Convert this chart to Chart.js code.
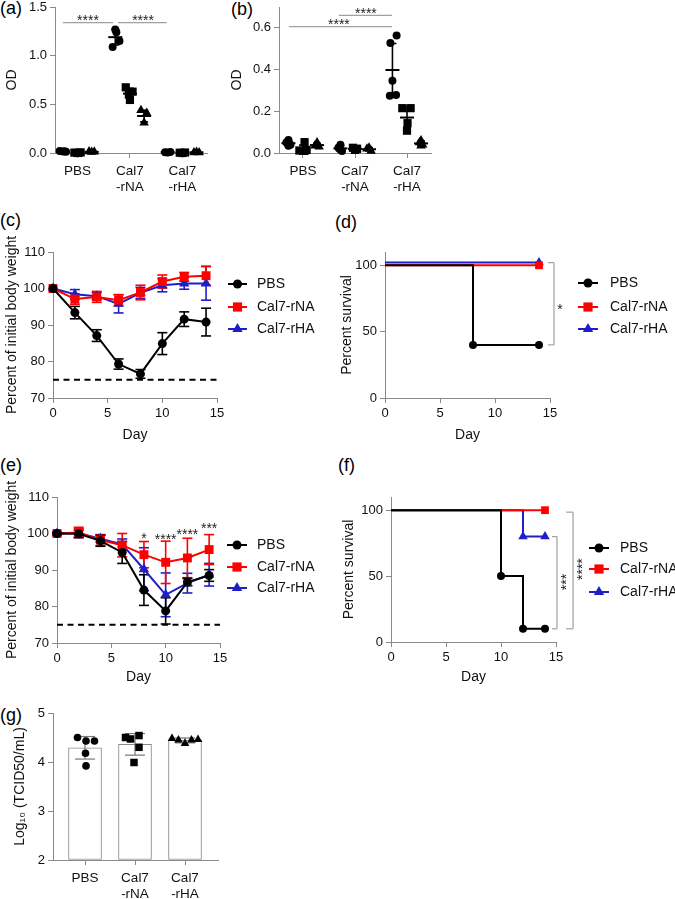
<!DOCTYPE html>
<html><head><meta charset="utf-8">
<script src="https://cdn.jsdelivr.net/npm/chart.js@4.4.1/dist/chart.umd.min.js"></script>
<style>
html,body{margin:0;padding:0;background:#fff;width:675px;height:899px;overflow:hidden;position:relative;font-family:"Liberation Sans",Arial,Helvetica,sans-serif;}
.panel{position:absolute;}
.panel canvas{display:block;}
.lbl{position:absolute;font-size:18px;line-height:18px;color:#000;white-space:nowrap;}
</style></head><body>
<div class="lbl" style="left:0px;top:-1px">(a)</div>
<div class="lbl" style="left:231px;top:0px">(b)</div>
<div class="lbl" style="left:0px;top:211px">(c)</div>
<div class="lbl" style="left:335px;top:213px">(d)</div>
<div class="lbl" style="left:0px;top:456px">(e)</div>
<div class="lbl" style="left:338px;top:456px">(f)</div>
<div class="lbl" style="left:0px;top:706px">(g)</div>
<script>
// ================= DATA =================
const catLabels = [['PBS'], ['Cal7', '-rNA'], ['Cal7', '-rHA']];
const seriesNames = ['PBS', 'Cal7-rNA', 'Cal7-rHA'];

// (a) OD — per group: [PBS, Cal7-rNA, Cal7-rHA]; three sub-series (circle, square, triangle)
const aCircle   = [[0.020, 0.015, 0.012, 0.018], [1.27, 1.24, 1.15, 1.09], [0.008, 0.005, 0.010]];
const aSquare   = [[0.004, 0.000, 0.006, 0.002], [0.675, 0.630, 0.600, 0.545], [0.003, 0.000, 0.005]];
const aTriangle = [[0.015, 0.010, 0.012], [0.44, 0.41, 0.31], [0.006, 0.010, 0.004]];
const aMeans = [[0.016, 1.19, 0.008], [0.003, 0.61, 0.003], [0.012, 0.38, 0.007]];
const aSDs   = [[0.004, 0.08, 0.002], [0.003, 0.055, 0.002], [0.003, 0.06, 0.003]];
const aJitCircle   = [[-0.06, 0.0, 0.06, 0.03], [0.0, 0.02, 0.08, -0.05], [-0.05, 0.0, 0.05]];
const aJitSquare   = [[-0.06, 0.0, 0.06, 0.02], [-0.08, 0.05, -0.02, 0.0], [-0.05, 0.0, 0.05]];
const aJitTriangle = [[-0.05, 0.0, 0.05], [-0.06, 0.05, 0.0], [-0.05, 0.0, 0.05]];

// (b) OD
const bCircle   = [[0.062, 0.050, 0.040, 0.035], [0.040, 0.025, 0.010, 0.015], [0.563, 0.527, 0.347, 0.274, 0.278]];
const bSquare   = [[0.052, 0.012, 0.010, 0.015, 0.010], [0.025, 0.020, 0.015, 0.020], [0.215, 0.215, 0.143, 0.107]];
const bTriangle = [[0.050, 0.035, 0.030, 0.040], [0.025, 0.020, 0.010], [0.060, 0.050, 0.040, 0.035]];
const bMeans = [[0.047, 0.022, 0.398], [0.020, 0.020, 0.170], [0.038, 0.018, 0.046]];
const bSDs   = [[0.012, 0.013, 0.127], [0.018, 0.004, 0.053], [0.009, 0.008, 0.011]];
const bJitCircle   = [[0.0, -0.04, 0.04, 0.0], [0.0, -0.04, 0.03, 0.0], [0.08, -0.04, 0.0, -0.05, 0.07]];
const bJitSquare   = [[0.03, -0.07, 0.0, 0.07, 0.03], [-0.04, 0.03, 0.0, 0.04], [-0.09, 0.07, 0.01, 0.0]];
const bJitTriangle = [[0.0, -0.04, 0.04, 0.0], [0.0, -0.04, 0.04], [0.0, -0.03, 0.03, 0.0]];

// (c) body weight
const days = [0, 2, 4, 6, 8, 10, 12, 14];
const cPBS    = [100, 93.4, 87.1, 79.3, 76.6, 84.9, 91.6, 90.8];
const cPBSErr = [0, 1.7, 1.6, 1.4, 1.2, 3.0, 2.0, 3.8];
const cRNA    = [100, 97.1, 97.7, 96.8, 98.9, 101.9, 103.2, 103.5];
const cRNAErr = [0, 1.4, 1.5, 1.5, 2.0, 1.8, 1.2, 2.6];
const cRHA    = [100, 98.4, 97.9, 95.8, 98.8, 100.9, 101.4, 101.4];
const cRHAErr = [0, 1.3, 1.0, 2.5, 1.5, 1.8, 1.6, 4.6];
const weightLimit = 75;

// (d) survival
const dPBSDays = [0, 8, 14],  dPBS = [100, 40, 40];
const dRNADays = [0, 14],     dRNA = [100, 100];
const dRHADays = [0, 14],     dRHA = [102, 102];

// (e) body weight
const ePBS    = [100, 99.9, 98.0, 94.8, 84.5, 78.8, 86.7, 88.5];
const ePBSErr = [0.3, 1.0, 1.5, 3.0, 4.2, 3.6, 1.0, 1.6];
const eRNA    = [100, 100.3, 98.2, 96.8, 94.2, 92.1, 93.3, 95.6];
const eRNAErr = [0.4, 1.4, 1.5, 3.2, 3.6, 5.8, 5.4, 4.1];
const eRHA    = [100, 100.1, 98.6, 97.0, 90.2, 83.2, 86.4, 88.7];
const eRHAErr = [0.3, 1.2, 1.0, 1.5, 5.9, 6.0, 2.7, 3.1];
const eStarDays = [8, 10, 12, 14];
const eStarLevels = [99.5, 99.2, 100.8, 102.2];
const eStarText = ['*', '****', '****', '***'];

// (f) survival
const fPBSDays = [0, 10, 12, 14], fPBS = [100, 50, 10, 10];
const fRNADays = [0, 14],         fRNA = [100, 100];
const fRHADays = [0, 12, 14],     fRHA = [100, 80, 80];

// (g) lung titers
const gPBS = [4.50, 4.43, 4.43, 4.18, 3.92];
const gRNA = [4.50, 4.47, 4.54, 4.30, 3.99];
const gRHA = [4.48, 4.45, 4.38, 4.45, 4.46];
const gMeans = [4.29, 4.36, 4.44];
const gSDs = [0.23, 0.22, 0.05];
const gJitPBS = [-0.15, 0.02, 0.19, 0.01, 0.02];
const gJitRNA = [-0.19, -0.09, 0.08, 0.08, -0.02];
const gJitRHA = [-0.26, -0.13, 0.0, 0.13, 0.26];

// ================= STYLE / LAYOUT =================
const FONT = '"Liberation Sans", Arial, Helvetica, sans-serif';
Chart.defaults.font.family = FONT;
Chart.defaults.color = '#111';
const GRAY = '#8a8a8a';
const COLORS = ['#000000', '#FF0000', '#1F1FC8'];
const SHAPES = ['circle', 'rect', 'triangle'];
const SUB_OFF = [-0.28, 0, 0.27];

function panel(g) {
  const d = document.createElement('div');
  d.className = 'panel';
  Object.assign(d.style, {left: g.L + 'px', top: g.T + 'px', width: g.W + 'px', height: g.H + 'px'});
  const c = document.createElement('canvas');
  c.width = g.W; c.height = g.H;
  c.style.width = g.W + 'px'; c.style.height = g.H + 'px';
  d.appendChild(c); document.body.appendChild(d);
  return c;
}

function scale(o) {
  return {
    type: 'linear', min: o.min, max: o.max, offset: false,
    afterBuildTicks: s => { s.ticks = o.ticks.map(v => ({value: v})); },
    ticks: {autoSkip: false, maxRotation: 0, minRotation: 0, padding: o.pad ?? 3, color: '#111',
            font: {size: o.fs || 13, lineHeight: o.lh || 1.2}, callback: o.fmt || (v => String(v))},
    grid: {drawOnChartArea: false, drawTicks: true, tickLength: 5, color: GRAY, lineWidth: 1, offset: false},
    border: {display: true, color: GRAY, width: 1},
    title: o.title ? {display: true, text: o.title, color: '#111', font: {size: 14}, padding: {top: 4, bottom: 4}} : {display: false}
  };
}

function baseOpts(g, x, y) {
  x.afterFit = s => { s.height = g.T + g.H - g.y1; };
  y.afterFit = s => { s.width = g.x0 - g.L; };
  return {
    responsive: false, animation: false, events: [],
    layout: {padding: {left: 0, top: g.y0 - g.T, right: g.L + g.W - g.x1, bottom: 0}},
    plugins: {legend: {display: false}, tooltip: {enabled: false}},
    scales: {x, y}
  };
}

function marker(ctx, shape, x, y, r) {
  ctx.beginPath();
  if (shape === 'circle') ctx.arc(x, y, r, 0, Math.PI * 2);
  else if (shape === 'rect') { const s = r * Math.SQRT1_2; ctx.rect(x - s, y - s, 2 * s, 2 * s); }
  else {
    ctx.moveTo(x, y - r);
    ctx.lineTo(x + r * Math.sin(2 * Math.PI / 3), y - r * Math.cos(2 * Math.PI / 3));
    ctx.lineTo(x + r * Math.sin(4 * Math.PI / 3), y - r * Math.cos(4 * Math.PI / 3));
    ctx.closePath();
  }
  ctx.fill();
}

function drawLegend(chart, g, lg) {
  const ctx = chart.ctx;
  lg.ys.forEach((yy, k) => {
    const y = yy - g.T;
    ctx.save();
    ctx.strokeStyle = COLORS[k]; ctx.lineWidth = 2;
    ctx.beginPath(); ctx.moveTo(lg.x1 - g.L, y); ctx.lineTo(lg.x2 - g.L, y); ctx.stroke();
    ctx.fillStyle = COLORS[k];
    marker(ctx, SHAPES[k], (lg.x1 + lg.x2) / 2 - g.L, y, lg.r[k]);
    ctx.fillStyle = '#111'; ctx.font = '14px ' + FONT;
    ctx.textBaseline = 'middle'; ctx.textAlign = 'left';
    ctx.fillText(seriesNames[k], lg.tx - g.L, y);
    ctx.restore();
  });
}

function stars(ctx, text, x, y, size, rot) {
  ctx.save();
  ctx.fillStyle = '#222'; ctx.font = size + 'px ' + FONT;
  ctx.textAlign = 'center'; ctx.textBaseline = 'alphabetic';
  ctx.translate(x, y);
  if (rot) ctx.rotate(-Math.PI / 2);
  ctx.fillText(text, 0, 0.57 * size);
  ctx.restore();
}

function line(ctx, x1, y1, x2, y2, color, w) {
  ctx.save(); ctx.strokeStyle = color; ctx.lineWidth = w;
  ctx.beginPath(); ctx.moveTo(x1, y1); ctx.lineTo(x2, y2); ctx.stroke(); ctx.restore();
}

// ---------- (a)/(b) dot plots ----------
const DOT_R = [4, 5.8, 5.5];
function dotChart(g, groups, jits, means, sds, yo, sig) {
  const canvas = panel(g);
  const datasets = groups.map((grp, s) => ({
    type: 'scatter',
    data: grp.flatMap((vals, c) => vals.map((v, i) => ({x: c + SUB_OFF[s] + jits[s][c][i], y: v}))),
    pointStyle: SHAPES[s], pointRadius: DOT_R[s], pointHoverRadius: DOT_R[s],
    backgroundColor: '#000', borderColor: '#000', pointBorderWidth: 0, showLine: false, clip: false
  }));
  const x = scale({min: -0.43, max: 2.47, ticks: [0, 1, 2], fmt: v => catLabels[Math.round(v)], fs: 13.5, lh: 1.15, pad: 6});
  const y = scale({min: 0, max: yo.max, ticks: yo.ticks, fmt: v => v.toFixed(1), title: 'OD'});
  if (yo.xmin !== undefined) { x.min = yo.xmin; x.max = yo.xmax; }
  const plugin = {
    id: 'meanSd',
    afterDatasetsDraw(chart) {
      const ctx = chart.ctx, xs = chart.scales.x, ys = chart.scales.y;
      for (let s = 0; s < 3; s++) for (let c = 0; c < 3; c++) {
        const px = xs.getPixelForValue(c + SUB_OFF[s]);
        const m = ys.getPixelForValue(means[s][c]);
        const t = ys.getPixelForValue(means[s][c] + sds[s][c]);
        const b = ys.getPixelForValue(Math.max(0, means[s][c] - sds[s][c]));
        line(ctx, px - 7, m, px + 7, m, '#000', 2);
        line(ctx, px, t, px, b, '#000', 1.6);
        line(ctx, px - 4, t, px + 4, t, '#000', 1.6);
        line(ctx, px - 4, b, px + 4, b, '#000', 1.6);
      }
      sig.forEach(sg => {
        const yy = ys.getPixelForValue(sg.y);
        line(ctx, xs.getPixelForValue(sg.x1), yy, xs.getPixelForValue(sg.x2), yy, '#a0a0a0', 1.3);
        stars(ctx, '****', xs.getPixelForValue(sg.sx), ys.getPixelForValue(sg.sy), 14, false);
      });
    }
  };
  return new Chart(canvas, {type: 'scatter', data: {datasets}, options: baseOpts(g, x, y), plugins: [plugin]});
}

dotChart({L: 0, T: -5, W: 235, H: 200, x0: 55, x1: 207, y0: 7, y1: 153},
  [aCircle, aSquare, aTriangle], [aJitCircle, aJitSquare, aJitTriangle], aMeans, aSDs,
  {max: 1.5, ticks: [0, 0.5, 1.0, 1.5]},
  [{x1: -0.28, x2: 0.68, y: 1.34, sx: 0.2, sy: 1.40}, {x1: 0.77, x2: 1.70, y: 1.34, sx: 1.25, sy: 1.40}]);

dotChart({L: 225, T: -5, W: 220, H: 200, x0: 279, x1: 431, y0: 7, y1: 153},
  [bCircle, bSquare, bTriangle], [bJitCircle, bJitSquare, bJitTriangle], bMeans, bSDs,
  {max: 0.7, ticks: [0, 0.2, 0.4, 0.6], xmin: -0.4615, xmax: 2.4615},
  [{x1: 0.69, x2: 1.71, y: 0.66, sx: 1.21, sy: 0.686}, {x1: -0.27, x2: 1.71, y: 0.606, sx: 0.69, sy: 0.632}]);

// ---------- (c)/(e) weight curves ----------
const LINE_R = [4.5, 6.3, 6];
function weightChart(g, series, errs, lg, starSpec) {
  const canvas = panel(g);
  const datasets = series.map((vals, k) => ({
    type: 'scatter', showLine: true, tension: 0,
    data: days.map((d, i) => ({x: d, y: vals[i]})),
    borderColor: COLORS[k], backgroundColor: COLORS[k], borderWidth: 2,
    pointStyle: SHAPES[k], pointRadius: LINE_R[k], pointHoverRadius: LINE_R[k], pointBorderWidth: 0, clip: false
  }));
  datasets.push({
    type: 'scatter', showLine: true, data: [{x: 0, y: weightLimit}, {x: 15, y: weightLimit}],
    borderColor: '#000', borderWidth: 2, borderDash: [6, 4.5], pointRadius: 0, clip: false
  });
  const x = scale({min: 0, max: 15, ticks: [0, 5, 10, 15], title: 'Day', pad: 3});
  const y = scale({min: 70, max: 110, ticks: [70, 80, 90, 100, 110], title: 'Percent of initial body weight'});
  const plugin = {
    id: 'wt',
    beforeDatasetsDraw(chart) {
      const ctx = chart.ctx, xs = chart.scales.x, ys = chart.scales.y;
      for (let k = series.length - 1; k >= 0; k--) {
        days.forEach((d, i) => {
          if (!errs[k][i]) return;
          const px = xs.getPixelForValue(d);
          const t = ys.getPixelForValue(series[k][i] + errs[k][i]);
          const b = ys.getPixelForValue(series[k][i] - errs[k][i]);
          line(ctx, px, t, px, b, COLORS[k], 1.6);
          line(ctx, px - 5, t, px + 5, t, COLORS[k], 1.6);
          line(ctx, px - 5, b, px + 5, b, COLORS[k], 1.6);
        });
      }
    },
    afterDraw(chart) {
      drawLegend(chart, g, lg);
      if (starSpec) {
        const xs = chart.scales.x, ys = chart.scales.y;
        starSpec.days.forEach((d, i) => stars(chart.ctx, starSpec.text[i], xs.getPixelForValue(d), ys.getPixelForValue(starSpec.levels[i]), 14, false));
      }
    }
  };
  return new Chart(canvas, {type: 'scatter', data: {datasets}, options: baseOpts(g, x, y), plugins: [plugin]});
}

weightChart({L: 0, T: 215, W: 335, H: 233, x0: 53, x1: 217, y0: 252, y1: 398},
  [cPBS, cRNA, cRHA], [cPBSErr, cRNAErr, cRHAErr],
  {x1: 228, x2: 247, tx: 257, ys: [284, 307, 329], r: [4.5, 6.5, 6]}, null);

weightChart({L: 0, T: 470, W: 335, H: 220, x0: 57, x1: 220, y0: 497, y1: 643},
  [ePBS, eRNA, eRHA], [ePBSErr, eRNAErr, eRHAErr],
  {x1: 227, x2: 247, tx: 257, ys: [545, 567, 588], r: [4.5, 6.5, 6]},
  {days: eStarDays, levels: eStarLevels, text: eStarText});

// ---------- (d)/(f) survival ----------
const SURV_R = [4, 5.5, 5.5];
function survChart(g, xsets, ysets, lg, brackets) {
  const canvas = panel(g);
  const datasets = ysets.map((vals, k) => ({
    type: 'scatter', showLine: true, stepped: 'before',
    data: vals.map((v, i) => ({x: xsets[k][i], y: v})),
    borderColor: COLORS[k], backgroundColor: COLORS[k], borderWidth: 2,
    pointStyle: SHAPES[k], pointRadius: c => c.dataIndex === 0 ? 0 : SURV_R[k], pointHoverRadius: 0,
    pointBorderWidth: 0, clip: false
  }));
  const x = scale({min: 0, max: 15, ticks: [0, 5, 10, 15], title: 'Day', pad: 3});
  const y = scale({min: 0, max: 110, ticks: [0, 50, 100], title: 'Percent survival'});
  const plugin = {
    id: 'surv',
    afterDraw(chart) {
      const ctx = chart.ctx, xs = chart.scales.x, ys = chart.scales.y;
      drawLegend(chart, g, lg);
      brackets.forEach(b => {
        const px = xs.getPixelForValue(b.x), t = ys.getPixelForValue(b.y1), bt = ys.getPixelForValue(b.y2);
        line(ctx, px, t, px, bt, '#a0a0a0', 1.2);
        line(ctx, px - b.tick, t, px, t, '#a0a0a0', 1.2);
        line(ctx, px - b.tick, bt, px, bt, '#a0a0a0', 1.2);
        stars(ctx, b.text, xs.getPixelForValue(b.sx), ys.getPixelForValue(b.sy), 14, b.rot);
      });
    }
  };
  return new Chart(canvas, {type: 'scatter', data: {datasets}, options: baseOpts(g, x, y), plugins: [plugin]});
}

survChart({L: 335, T: 215, W: 340, H: 233, x0: 385, x1: 550, y0: 252, y1: 398},
  [dPBSDays, dRNADays, dRHADays], [dPBS, dRNA, dRHA],
  {x1: 578, x2: 598, tx: 610, ys: [283, 307, 329], r: [4.5, 6.5, 6]},
  [{x: 15.36, y1: 102, y2: 40, tick: 6, text: '*', sx: 15.9, sy: 69, rot: false}]);

survChart({L: 337, T: 470, W: 338, H: 220, x0: 391, x1: 556, y0: 497, y1: 642},
  [fPBSDays, fRNADays, fRHADays], [fPBS, fRNA, fRHA],
  {x1: 589, x2: 609, tx: 620, ys: [548, 569, 592], r: [4.5, 6.5, 6]},
  [{x: 15.09, y1: 80, y2: 10, tick: 5, text: '***', sx: 15.64, sy: 45.5, rot: true},
   {x: 16.55, y1: 98.5, y2: 10, tick: 7, text: '****', sx: 17.1, sy: 55.3, rot: true}]);

// ---------- (g) bars ----------
(function () {
  const g = {L: 8, T: 701, W: 240, H: 204, x0: 53, x1: 218, y0: 713, y1: 860};
  const canvas = panel(g);
  const pts = [gPBS, gRNA, gRHA], jit = [gJitPBS, gJitRNA, gJitRHA];
  const radii = [3.8, 5.3, 5];
  const datasets = pts.map((vals, c) => ({
    type: 'scatter', order: 1,
    data: vals.map((v, i) => ({x: c + jit[c][i], y: v})),
    pointStyle: SHAPES[c], pointRadius: radii[c], pointHoverRadius: radii[c],
    backgroundColor: '#000', borderColor: '#000', pointBorderWidth: 0, showLine: false, clip: false
  }));
  datasets.push({
    type: 'bar', order: 2, base: 2,
    data: gMeans.map((m, c) => ({x: c, y: m})),
    backgroundColor: '#ffffff', borderColor: GRAY, borderWidth: 1, barThickness: 33, borderSkipped: false
  });
  const x = scale({min: -0.64, max: 2.66, ticks: [0, 1, 2], fmt: v => catLabels[Math.round(v)], fs: 13.5, lh: 1.15, pad: 6});
  const y = scale({min: 2, max: 5, ticks: [2, 3, 4, 5], title: 'Log\u2081\u2080 (TCID50/mL)'});
  const plugin = {
    id: 'gerr',
    afterDatasetDraw(chart, args) {
      if (args.index !== 3) return;
      const ctx = chart.ctx, xs = chart.scales.x, ys = chart.scales.y;
      gMeans.forEach((m, c) => {
        const px = xs.getPixelForValue(c);
        const t = ys.getPixelForValue(m + gSDs[c]), b = ys.getPixelForValue(m - gSDs[c]);
        line(ctx, px, t, px, b, '#777', 1.2);
        line(ctx, px - 10, t, px + 10, t, '#777', 1.2);
        line(ctx, px - 10, b, px + 10, b, '#777', 1.2);
      });
    }
  };
  new Chart(canvas, {type: 'bar', data: {datasets}, options: baseOpts(g, x, y), plugins: [plugin]});
})();
</script>
</body></html>
